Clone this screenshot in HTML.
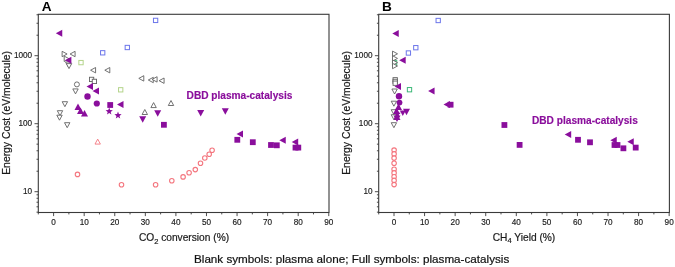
<!DOCTYPE html>
<html><head><meta charset="utf-8"><style>
html,body{margin:0;padding:0;background:#fff;}
svg{display:block;filter:blur(0.3px);}
text{font-family:"Liberation Sans",sans-serif;}
.tk{font-size:8.2px;fill:#1a1a1a;stroke:#1a1a1a;stroke-width:0.15px;}
.al{font-size:10.2px;fill:#1a1a1a;stroke:#1a1a1a;stroke-width:0.2px;}
.lt{font-size:13.6px;font-weight:bold;fill:#000;}
.dbd{font-size:10.15px;font-weight:bold;fill:#8a0e9c;stroke:#8a0e9c;stroke-width:0.15px;}
.cap{font-size:11.68px;fill:#111;stroke:#111;stroke-width:0.2px;}
</style></head><body>
<svg width="675" height="267" viewBox="0 0 675 267">
<rect width="675" height="267" fill="#fff"/>
<rect x="38.3" y="14.3" width="290.70" height="198.20" fill="none" stroke="#3a3a3a" stroke-width="1.1"/>
<line x1="38.31" y1="212.5" x2="38.31" y2="214.4" stroke="#3a3a3a" stroke-width="0.9"/>
<line x1="53.60" y1="212.5" x2="53.60" y2="216.1" stroke="#3a3a3a" stroke-width="0.9"/>
<text x="53.60" y="224.9" text-anchor="middle" class="tk">0</text>
<line x1="68.89" y1="212.5" x2="68.89" y2="214.4" stroke="#3a3a3a" stroke-width="0.9"/>
<line x1="84.18" y1="212.5" x2="84.18" y2="216.1" stroke="#3a3a3a" stroke-width="0.9"/>
<text x="84.18" y="224.9" text-anchor="middle" class="tk">10</text>
<line x1="99.46" y1="212.5" x2="99.46" y2="214.4" stroke="#3a3a3a" stroke-width="0.9"/>
<line x1="114.75" y1="212.5" x2="114.75" y2="216.1" stroke="#3a3a3a" stroke-width="0.9"/>
<text x="114.75" y="224.9" text-anchor="middle" class="tk">20</text>
<line x1="130.04" y1="212.5" x2="130.04" y2="214.4" stroke="#3a3a3a" stroke-width="0.9"/>
<line x1="145.33" y1="212.5" x2="145.33" y2="216.1" stroke="#3a3a3a" stroke-width="0.9"/>
<text x="145.33" y="224.9" text-anchor="middle" class="tk">30</text>
<line x1="160.61" y1="212.5" x2="160.61" y2="214.4" stroke="#3a3a3a" stroke-width="0.9"/>
<line x1="175.90" y1="212.5" x2="175.90" y2="216.1" stroke="#3a3a3a" stroke-width="0.9"/>
<text x="175.90" y="224.9" text-anchor="middle" class="tk">40</text>
<line x1="191.19" y1="212.5" x2="191.19" y2="214.4" stroke="#3a3a3a" stroke-width="0.9"/>
<line x1="206.47" y1="212.5" x2="206.47" y2="216.1" stroke="#3a3a3a" stroke-width="0.9"/>
<text x="206.47" y="224.9" text-anchor="middle" class="tk">50</text>
<line x1="221.76" y1="212.5" x2="221.76" y2="214.4" stroke="#3a3a3a" stroke-width="0.9"/>
<line x1="237.05" y1="212.5" x2="237.05" y2="216.1" stroke="#3a3a3a" stroke-width="0.9"/>
<text x="237.05" y="224.9" text-anchor="middle" class="tk">60</text>
<line x1="252.34" y1="212.5" x2="252.34" y2="214.4" stroke="#3a3a3a" stroke-width="0.9"/>
<line x1="267.62" y1="212.5" x2="267.62" y2="216.1" stroke="#3a3a3a" stroke-width="0.9"/>
<text x="267.62" y="224.9" text-anchor="middle" class="tk">70</text>
<line x1="282.91" y1="212.5" x2="282.91" y2="214.4" stroke="#3a3a3a" stroke-width="0.9"/>
<line x1="298.20" y1="212.5" x2="298.20" y2="216.1" stroke="#3a3a3a" stroke-width="0.9"/>
<text x="298.20" y="224.9" text-anchor="middle" class="tk">80</text>
<line x1="313.49" y1="212.5" x2="313.49" y2="214.4" stroke="#3a3a3a" stroke-width="0.9"/>
<line x1="328.78" y1="212.5" x2="328.78" y2="216.1" stroke="#3a3a3a" stroke-width="0.9"/>
<text x="328.78" y="224.9" text-anchor="middle" class="tk">90</text>
<line x1="36.50" y1="212.17" x2="38.3" y2="212.17" stroke="#3a3a3a" stroke-width="0.9"/>
<line x1="36.50" y1="206.79" x2="38.3" y2="206.79" stroke="#3a3a3a" stroke-width="0.9"/>
<line x1="36.50" y1="202.23" x2="38.3" y2="202.23" stroke="#3a3a3a" stroke-width="0.9"/>
<line x1="36.50" y1="198.29" x2="38.3" y2="198.29" stroke="#3a3a3a" stroke-width="0.9"/>
<line x1="36.50" y1="194.81" x2="38.3" y2="194.81" stroke="#3a3a3a" stroke-width="0.9"/>
<line x1="34.50" y1="191.70" x2="38.3" y2="191.70" stroke="#3a3a3a" stroke-width="0.9"/>
<text x="32.10" y="194.10" text-anchor="end" class="tk">10</text>
<line x1="36.50" y1="171.23" x2="38.3" y2="171.23" stroke="#3a3a3a" stroke-width="0.9"/>
<line x1="36.50" y1="159.26" x2="38.3" y2="159.26" stroke="#3a3a3a" stroke-width="0.9"/>
<line x1="36.50" y1="150.76" x2="38.3" y2="150.76" stroke="#3a3a3a" stroke-width="0.9"/>
<line x1="36.50" y1="144.17" x2="38.3" y2="144.17" stroke="#3a3a3a" stroke-width="0.9"/>
<line x1="36.50" y1="138.79" x2="38.3" y2="138.79" stroke="#3a3a3a" stroke-width="0.9"/>
<line x1="36.50" y1="134.23" x2="38.3" y2="134.23" stroke="#3a3a3a" stroke-width="0.9"/>
<line x1="36.50" y1="130.29" x2="38.3" y2="130.29" stroke="#3a3a3a" stroke-width="0.9"/>
<line x1="36.50" y1="126.81" x2="38.3" y2="126.81" stroke="#3a3a3a" stroke-width="0.9"/>
<line x1="34.50" y1="123.70" x2="38.3" y2="123.70" stroke="#3a3a3a" stroke-width="0.9"/>
<text x="32.10" y="126.10" text-anchor="end" class="tk">100</text>
<line x1="36.50" y1="103.23" x2="38.3" y2="103.23" stroke="#3a3a3a" stroke-width="0.9"/>
<line x1="36.50" y1="91.26" x2="38.3" y2="91.26" stroke="#3a3a3a" stroke-width="0.9"/>
<line x1="36.50" y1="82.76" x2="38.3" y2="82.76" stroke="#3a3a3a" stroke-width="0.9"/>
<line x1="36.50" y1="76.17" x2="38.3" y2="76.17" stroke="#3a3a3a" stroke-width="0.9"/>
<line x1="36.50" y1="70.79" x2="38.3" y2="70.79" stroke="#3a3a3a" stroke-width="0.9"/>
<line x1="36.50" y1="66.23" x2="38.3" y2="66.23" stroke="#3a3a3a" stroke-width="0.9"/>
<line x1="36.50" y1="62.29" x2="38.3" y2="62.29" stroke="#3a3a3a" stroke-width="0.9"/>
<line x1="36.50" y1="58.81" x2="38.3" y2="58.81" stroke="#3a3a3a" stroke-width="0.9"/>
<line x1="34.50" y1="55.70" x2="38.3" y2="55.70" stroke="#3a3a3a" stroke-width="0.9"/>
<text x="32.10" y="58.10" text-anchor="end" class="tk">1000</text>
<line x1="36.50" y1="35.23" x2="38.3" y2="35.23" stroke="#3a3a3a" stroke-width="0.9"/>
<line x1="36.50" y1="23.26" x2="38.3" y2="23.26" stroke="#3a3a3a" stroke-width="0.9"/>
<line x1="36.50" y1="14.76" x2="38.3" y2="14.76" stroke="#3a3a3a" stroke-width="0.9"/>
<text x="41.70" y="10.7" class="lt">A</text>
<text transform="translate(9.50,112.90) rotate(-90)" text-anchor="middle" class="al" style="font-size:10.36px">Energy Cost (eV/molecule)</text>
<text x="184" y="241.3" text-anchor="middle" class="al">CO<tspan font-size="7.5" dy="2.2">2</tspan><tspan dy="-2.2"> conversion (%)</tspan></text>
<rect x="378.7" y="14.3" width="290.70" height="198.20" fill="none" stroke="#3a3a3a" stroke-width="1.1"/>
<line x1="378.71" y1="212.5" x2="378.71" y2="214.4" stroke="#3a3a3a" stroke-width="0.9"/>
<line x1="394.00" y1="212.5" x2="394.00" y2="216.1" stroke="#3a3a3a" stroke-width="0.9"/>
<text x="394.00" y="224.9" text-anchor="middle" class="tk">0</text>
<line x1="409.29" y1="212.5" x2="409.29" y2="214.4" stroke="#3a3a3a" stroke-width="0.9"/>
<line x1="424.57" y1="212.5" x2="424.57" y2="216.1" stroke="#3a3a3a" stroke-width="0.9"/>
<text x="424.57" y="224.9" text-anchor="middle" class="tk">10</text>
<line x1="439.86" y1="212.5" x2="439.86" y2="214.4" stroke="#3a3a3a" stroke-width="0.9"/>
<line x1="455.15" y1="212.5" x2="455.15" y2="216.1" stroke="#3a3a3a" stroke-width="0.9"/>
<text x="455.15" y="224.9" text-anchor="middle" class="tk">20</text>
<line x1="470.44" y1="212.5" x2="470.44" y2="214.4" stroke="#3a3a3a" stroke-width="0.9"/>
<line x1="485.73" y1="212.5" x2="485.73" y2="216.1" stroke="#3a3a3a" stroke-width="0.9"/>
<text x="485.73" y="224.9" text-anchor="middle" class="tk">30</text>
<line x1="501.01" y1="212.5" x2="501.01" y2="214.4" stroke="#3a3a3a" stroke-width="0.9"/>
<line x1="516.30" y1="212.5" x2="516.30" y2="216.1" stroke="#3a3a3a" stroke-width="0.9"/>
<text x="516.30" y="224.9" text-anchor="middle" class="tk">40</text>
<line x1="531.59" y1="212.5" x2="531.59" y2="214.4" stroke="#3a3a3a" stroke-width="0.9"/>
<line x1="546.88" y1="212.5" x2="546.88" y2="216.1" stroke="#3a3a3a" stroke-width="0.9"/>
<text x="546.88" y="224.9" text-anchor="middle" class="tk">50</text>
<line x1="562.16" y1="212.5" x2="562.16" y2="214.4" stroke="#3a3a3a" stroke-width="0.9"/>
<line x1="577.45" y1="212.5" x2="577.45" y2="216.1" stroke="#3a3a3a" stroke-width="0.9"/>
<text x="577.45" y="224.9" text-anchor="middle" class="tk">60</text>
<line x1="592.74" y1="212.5" x2="592.74" y2="214.4" stroke="#3a3a3a" stroke-width="0.9"/>
<line x1="608.02" y1="212.5" x2="608.02" y2="216.1" stroke="#3a3a3a" stroke-width="0.9"/>
<text x="608.02" y="224.9" text-anchor="middle" class="tk">70</text>
<line x1="623.31" y1="212.5" x2="623.31" y2="214.4" stroke="#3a3a3a" stroke-width="0.9"/>
<line x1="638.60" y1="212.5" x2="638.60" y2="216.1" stroke="#3a3a3a" stroke-width="0.9"/>
<text x="638.60" y="224.9" text-anchor="middle" class="tk">80</text>
<line x1="653.89" y1="212.5" x2="653.89" y2="214.4" stroke="#3a3a3a" stroke-width="0.9"/>
<line x1="669.17" y1="212.5" x2="669.17" y2="216.1" stroke="#3a3a3a" stroke-width="0.9"/>
<text x="669.17" y="224.9" text-anchor="middle" class="tk">90</text>
<line x1="376.90" y1="212.17" x2="378.7" y2="212.17" stroke="#3a3a3a" stroke-width="0.9"/>
<line x1="376.90" y1="206.79" x2="378.7" y2="206.79" stroke="#3a3a3a" stroke-width="0.9"/>
<line x1="376.90" y1="202.23" x2="378.7" y2="202.23" stroke="#3a3a3a" stroke-width="0.9"/>
<line x1="376.90" y1="198.29" x2="378.7" y2="198.29" stroke="#3a3a3a" stroke-width="0.9"/>
<line x1="376.90" y1="194.81" x2="378.7" y2="194.81" stroke="#3a3a3a" stroke-width="0.9"/>
<line x1="374.90" y1="191.70" x2="378.7" y2="191.70" stroke="#3a3a3a" stroke-width="0.9"/>
<text x="372.50" y="194.10" text-anchor="end" class="tk">10</text>
<line x1="376.90" y1="171.23" x2="378.7" y2="171.23" stroke="#3a3a3a" stroke-width="0.9"/>
<line x1="376.90" y1="159.26" x2="378.7" y2="159.26" stroke="#3a3a3a" stroke-width="0.9"/>
<line x1="376.90" y1="150.76" x2="378.7" y2="150.76" stroke="#3a3a3a" stroke-width="0.9"/>
<line x1="376.90" y1="144.17" x2="378.7" y2="144.17" stroke="#3a3a3a" stroke-width="0.9"/>
<line x1="376.90" y1="138.79" x2="378.7" y2="138.79" stroke="#3a3a3a" stroke-width="0.9"/>
<line x1="376.90" y1="134.23" x2="378.7" y2="134.23" stroke="#3a3a3a" stroke-width="0.9"/>
<line x1="376.90" y1="130.29" x2="378.7" y2="130.29" stroke="#3a3a3a" stroke-width="0.9"/>
<line x1="376.90" y1="126.81" x2="378.7" y2="126.81" stroke="#3a3a3a" stroke-width="0.9"/>
<line x1="374.90" y1="123.70" x2="378.7" y2="123.70" stroke="#3a3a3a" stroke-width="0.9"/>
<text x="372.50" y="126.10" text-anchor="end" class="tk">100</text>
<line x1="376.90" y1="103.23" x2="378.7" y2="103.23" stroke="#3a3a3a" stroke-width="0.9"/>
<line x1="376.90" y1="91.26" x2="378.7" y2="91.26" stroke="#3a3a3a" stroke-width="0.9"/>
<line x1="376.90" y1="82.76" x2="378.7" y2="82.76" stroke="#3a3a3a" stroke-width="0.9"/>
<line x1="376.90" y1="76.17" x2="378.7" y2="76.17" stroke="#3a3a3a" stroke-width="0.9"/>
<line x1="376.90" y1="70.79" x2="378.7" y2="70.79" stroke="#3a3a3a" stroke-width="0.9"/>
<line x1="376.90" y1="66.23" x2="378.7" y2="66.23" stroke="#3a3a3a" stroke-width="0.9"/>
<line x1="376.90" y1="62.29" x2="378.7" y2="62.29" stroke="#3a3a3a" stroke-width="0.9"/>
<line x1="376.90" y1="58.81" x2="378.7" y2="58.81" stroke="#3a3a3a" stroke-width="0.9"/>
<line x1="374.90" y1="55.70" x2="378.7" y2="55.70" stroke="#3a3a3a" stroke-width="0.9"/>
<text x="372.50" y="58.10" text-anchor="end" class="tk">1000</text>
<line x1="376.90" y1="35.23" x2="378.7" y2="35.23" stroke="#3a3a3a" stroke-width="0.9"/>
<line x1="376.90" y1="23.26" x2="378.7" y2="23.26" stroke="#3a3a3a" stroke-width="0.9"/>
<line x1="376.90" y1="14.76" x2="378.7" y2="14.76" stroke="#3a3a3a" stroke-width="0.9"/>
<text x="382.10" y="10.7" class="lt">B</text>
<text transform="translate(349.90,112.90) rotate(-90)" text-anchor="middle" class="al" style="font-size:10.36px">Energy Cost (eV/molecule)</text>
<text x="524" y="241.1" text-anchor="middle" class="al">CH<tspan font-size="7.5" dy="2.2">4</tspan><tspan dy="-2.2"> Yield (%)</tspan></text>
<g>
<polygon points="67.10,54.00 62.11,51.30 62.11,56.70" fill="#fff" stroke="#626262" stroke-width="0.9"/>
<polygon points="70.10,54.00 75.09,51.30 75.09,56.70" fill="#fff" stroke="#626262" stroke-width="0.9"/>
<polygon points="69.20,58.80 64.20,56.10 64.20,61.50" fill="#fff" stroke="#626262" stroke-width="0.9"/>
<polygon points="68.30,67.00 65.60,62.00 71.00,62.00" fill="#fff" stroke="#626262" stroke-width="0.9"/>
<polygon points="69.00,68.60 66.30,63.61 71.70,63.61" fill="#fff" stroke="#626262" stroke-width="0.9"/>
<polygon points="90.60,70.20 95.59,67.50 95.59,72.90" fill="#fff" stroke="#626262" stroke-width="0.9"/>
<polygon points="104.80,70.20 109.80,67.50 109.80,72.90" fill="#fff" stroke="#626262" stroke-width="0.9"/>
<rect x="89.45" y="77.25" width="4.30" height="4.30" fill="#fff" stroke="#626262" stroke-width="0.9"/>
<rect x="92.25" y="79.25" width="4.30" height="4.30" fill="#fff" stroke="#626262" stroke-width="0.9"/>
<circle cx="76.90" cy="84.40" r="2.50" fill="#fff" stroke="#626262" stroke-width="0.9"/>
<polygon points="75.50,93.90 72.80,88.91 78.20,88.91" fill="#fff" stroke="#626262" stroke-width="0.9"/>
<polygon points="138.80,78.40 143.79,75.70 143.79,81.10" fill="#fff" stroke="#626262" stroke-width="0.9"/>
<polygon points="148.30,80.00 153.29,77.30 153.29,82.70" fill="#fff" stroke="#626262" stroke-width="0.9"/>
<polygon points="152.10,79.40 157.09,76.70 157.09,82.10" fill="#fff" stroke="#626262" stroke-width="0.9"/>
<polygon points="159.10,80.70 164.09,78.00 164.09,83.40" fill="#fff" stroke="#626262" stroke-width="0.9"/>
<polygon points="64.90,106.70 62.20,101.70 67.60,101.70" fill="#fff" stroke="#626262" stroke-width="0.9"/>
<polygon points="60.00,115.70 57.30,110.70 62.70,110.70" fill="#fff" stroke="#626262" stroke-width="0.9"/>
<polygon points="59.50,120.20 56.80,115.20 62.20,115.20" fill="#fff" stroke="#626262" stroke-width="0.9"/>
<polygon points="67.20,127.70 64.50,122.70 69.90,122.70" fill="#fff" stroke="#626262" stroke-width="0.9"/>
<polygon points="153.60,102.60 150.90,107.59 156.30,107.59" fill="#fff" stroke="#626262" stroke-width="0.9"/>
<polygon points="171.00,100.50 168.30,105.50 173.70,105.50" fill="#fff" stroke="#626262" stroke-width="0.9"/>
<polygon points="144.80,109.50 142.10,114.50 147.50,114.50" fill="#fff" stroke="#626262" stroke-width="0.9"/>
<rect x="153.45" y="18.25" width="4.30" height="4.30" fill="#fff" stroke="#6c76ea" stroke-width="1.0"/>
<rect x="125.15" y="45.35" width="4.30" height="4.30" fill="#fff" stroke="#6c76ea" stroke-width="1.0"/>
<rect x="100.55" y="50.65" width="4.30" height="4.30" fill="#fff" stroke="#6c76ea" stroke-width="1.0"/>
<rect x="78.85" y="60.45" width="4.30" height="4.30" fill="#fff" stroke="#b4d48a" stroke-width="1.0"/>
<rect x="118.55" y="87.65" width="4.30" height="4.30" fill="#fff" stroke="#b4d48a" stroke-width="1.0"/>
<polygon points="97.70,139.10 95.00,144.09 100.40,144.09" fill="#fff" stroke="#f4767f" stroke-width="0.9"/>
<circle cx="77.50" cy="174.40" r="2.25" fill="#fff" stroke="#f4767f" stroke-width="1.1"/>
<circle cx="121.50" cy="184.80" r="2.25" fill="#fff" stroke="#f4767f" stroke-width="1.1"/>
<circle cx="155.60" cy="184.80" r="2.25" fill="#fff" stroke="#f4767f" stroke-width="1.1"/>
<circle cx="171.80" cy="180.70" r="2.25" fill="#fff" stroke="#f4767f" stroke-width="1.1"/>
<circle cx="183.10" cy="176.90" r="2.25" fill="#fff" stroke="#f4767f" stroke-width="1.1"/>
<circle cx="189.10" cy="172.80" r="2.25" fill="#fff" stroke="#f4767f" stroke-width="1.1"/>
<circle cx="195.30" cy="169.60" r="2.25" fill="#fff" stroke="#f4767f" stroke-width="1.1"/>
<circle cx="200.50" cy="163.20" r="2.25" fill="#fff" stroke="#f4767f" stroke-width="1.1"/>
<circle cx="204.80" cy="158.00" r="2.25" fill="#fff" stroke="#f4767f" stroke-width="1.1"/>
<circle cx="209.20" cy="154.20" r="2.25" fill="#fff" stroke="#f4767f" stroke-width="1.1"/>
<circle cx="212.10" cy="150.30" r="2.25" fill="#fff" stroke="#f4767f" stroke-width="1.1"/>
<polygon points="55.80,33.20 62.27,29.70 62.27,36.70" fill="#8a0e9c"/>
<polygon points="64.90,60.30 71.38,56.80 71.38,63.80" fill="#8a0e9c"/>
<polygon points="86.50,86.60 92.97,83.10 92.97,90.10" fill="#8a0e9c"/>
<polygon points="92.50,91.00 98.97,87.50 98.97,94.50" fill="#8a0e9c"/>
<circle cx="87.50" cy="96.50" r="3.20" fill="#8a0e9c"/>
<circle cx="96.80" cy="103.50" r="3.10" fill="#8a0e9c"/>
<polygon points="78.00,103.50 74.50,109.97 81.50,109.97" fill="#8a0e9c"/>
<polygon points="80.50,107.50 77.00,113.97 84.00,113.97" fill="#8a0e9c"/>
<polygon points="84.50,110.00 81.00,116.47 88.00,116.47" fill="#8a0e9c"/>
<rect x="107.30" y="102.10" width="5.80" height="5.80" fill="#8a0e9c"/>
<polygon points="109.20,107.60 110.14,110.11 112.81,110.23 110.72,111.89 111.43,114.47 109.20,113.00 106.97,114.47 107.68,111.89 105.59,110.23 108.26,110.11" fill="#8a0e9c"/>
<polygon points="118.00,111.60 118.94,114.11 121.61,114.23 119.52,115.89 120.23,118.47 118.00,117.00 115.77,118.47 116.48,115.89 114.39,114.23 117.06,114.11" fill="#8a0e9c"/>
<polygon points="117.00,104.50 123.47,101.00 123.47,108.00" fill="#8a0e9c"/>
<polygon points="157.70,116.80 154.20,110.33 161.20,110.33" fill="#8a0e9c"/>
<polygon points="142.70,122.70 139.20,116.23 146.20,116.23" fill="#8a0e9c"/>
<rect x="161.00" y="121.90" width="5.80" height="5.80" fill="#8a0e9c"/>
<polygon points="200.70,116.50 197.20,110.03 204.20,110.03" fill="#8a0e9c"/>
<polygon points="225.30,114.80 221.80,108.33 228.80,108.33" fill="#8a0e9c"/>
<polygon points="236.50,134.00 242.97,130.50 242.97,137.50" fill="#8a0e9c"/>
<rect x="234.40" y="136.90" width="5.80" height="5.80" fill="#8a0e9c"/>
<rect x="249.90" y="139.30" width="5.80" height="5.80" fill="#8a0e9c"/>
<rect x="268.10" y="142.10" width="5.80" height="5.80" fill="#8a0e9c"/>
<rect x="273.90" y="142.40" width="5.80" height="5.80" fill="#8a0e9c"/>
<polygon points="279.30,140.20 285.78,136.70 285.78,143.70" fill="#8a0e9c"/>
<polygon points="291.70,142.00 298.18,138.50 298.18,145.50" fill="#8a0e9c"/>
<rect x="292.60" y="144.70" width="5.80" height="5.80" fill="#8a0e9c"/>
<rect x="295.40" y="144.70" width="5.80" height="5.80" fill="#8a0e9c"/>
</g>
<g>
<rect x="436.05" y="18.35" width="4.30" height="4.30" fill="#fff" stroke="#6c76ea" stroke-width="1.0"/>
<rect x="413.65" y="45.55" width="4.30" height="4.30" fill="#fff" stroke="#6c76ea" stroke-width="1.0"/>
<rect x="406.25" y="50.85" width="4.30" height="4.30" fill="#fff" stroke="#6c76ea" stroke-width="1.0"/>
<rect x="392.45" y="60.65" width="4.30" height="4.30" fill="#fff" stroke="#3cb878" stroke-width="1.0"/>
<polygon points="397.50,53.80 392.50,51.10 392.50,56.50" fill="#fff" stroke="#626262" stroke-width="0.9"/>
<polygon points="397.50,58.40 392.50,55.70 392.50,61.10" fill="#fff" stroke="#626262" stroke-width="0.9"/>
<polygon points="397.50,62.60 392.50,59.90 392.50,65.30" fill="#fff" stroke="#626262" stroke-width="0.9"/>
<polygon points="397.50,66.00 392.50,63.30 392.50,68.70" fill="#fff" stroke="#626262" stroke-width="0.9"/>
<rect x="393.05" y="77.65" width="4.30" height="4.30" fill="#fff" stroke="#626262" stroke-width="0.9"/>
<rect x="393.05" y="79.25" width="4.30" height="4.30" fill="#fff" stroke="#626262" stroke-width="0.9"/>
<rect x="393.05" y="81.05" width="4.30" height="4.30" fill="#fff" stroke="#626262" stroke-width="0.9"/>
<polygon points="394.60,94.00 391.90,89.00 397.30,89.00" fill="#fff" stroke="#626262" stroke-width="0.9"/>
<rect x="407.35" y="87.55" width="4.30" height="4.30" fill="#fff" stroke="#3cb878" stroke-width="1.0"/>
<polygon points="393.90,106.20 391.20,101.20 396.60,101.20" fill="#fff" stroke="#626262" stroke-width="0.9"/>
<polygon points="393.90,114.70 391.20,109.70 396.60,109.70" fill="#fff" stroke="#626262" stroke-width="0.9"/>
<polygon points="393.90,119.70 391.20,114.70 396.60,114.70" fill="#fff" stroke="#626262" stroke-width="0.9"/>
<polygon points="393.90,127.70 391.20,122.70 396.60,122.70" fill="#fff" stroke="#626262" stroke-width="0.9"/>
<circle cx="394.10" cy="150.10" r="2.25" fill="#fff" stroke="#f4767f" stroke-width="1.1"/>
<circle cx="394.10" cy="153.90" r="2.25" fill="#fff" stroke="#f4767f" stroke-width="1.1"/>
<circle cx="394.10" cy="158.10" r="2.25" fill="#fff" stroke="#f4767f" stroke-width="1.1"/>
<circle cx="394.10" cy="163.20" r="2.25" fill="#fff" stroke="#f4767f" stroke-width="1.1"/>
<circle cx="394.10" cy="169.20" r="2.25" fill="#fff" stroke="#f4767f" stroke-width="1.1"/>
<circle cx="394.10" cy="172.90" r="2.25" fill="#fff" stroke="#f4767f" stroke-width="1.1"/>
<circle cx="394.10" cy="176.70" r="2.25" fill="#fff" stroke="#f4767f" stroke-width="1.1"/>
<circle cx="394.10" cy="180.40" r="2.25" fill="#fff" stroke="#f4767f" stroke-width="1.1"/>
<circle cx="394.10" cy="184.60" r="2.25" fill="#fff" stroke="#f4767f" stroke-width="1.1"/>
<polygon points="392.30,33.50 398.78,30.00 398.78,37.00" fill="#8a0e9c"/>
<polygon points="399.20,60.30 405.68,56.80 405.68,63.80" fill="#8a0e9c"/>
<polygon points="394.50,86.50 400.98,83.00 400.98,90.00" fill="#8a0e9c"/>
<circle cx="399.00" cy="96.20" r="3.20" fill="#8a0e9c"/>
<circle cx="399.50" cy="102.60" r="2.90" fill="#8a0e9c"/>
<polygon points="398.50,103.50 395.00,109.97 402.00,109.97" fill="#8a0e9c"/>
<polygon points="396.50,107.50 393.00,113.97 400.00,113.97" fill="#8a0e9c"/>
<polygon points="397.30,110.20 398.24,112.71 400.91,112.83 398.82,114.49 399.53,117.07 397.30,115.60 395.07,117.07 395.78,114.49 393.69,112.83 396.36,112.71" fill="#8a0e9c"/>
<polygon points="397.00,113.50 393.50,119.97 400.50,119.97" fill="#8a0e9c"/>
<polygon points="397.00,122.00 393.50,115.53 400.50,115.53" fill="#8a0e9c"/>
<polygon points="406.50,115.30 403.00,108.83 410.00,108.83" fill="#8a0e9c"/>
<polygon points="402.80,116.00 399.80,110.45 405.80,110.45" fill="#8a0e9c"/>
<polygon points="428.10,91.00 434.58,87.50 434.58,94.50" fill="#8a0e9c"/>
<polygon points="443.50,104.50 449.98,101.00 449.98,108.00" fill="#8a0e9c"/>
<rect x="447.70" y="101.80" width="5.80" height="5.80" fill="#8a0e9c"/>
<rect x="501.50" y="122.10" width="5.80" height="5.80" fill="#8a0e9c"/>
<rect x="516.70" y="142.00" width="5.80" height="5.80" fill="#8a0e9c"/>
<polygon points="564.70,134.60 571.18,131.10 571.18,138.10" fill="#8a0e9c"/>
<rect x="575.10" y="136.90" width="5.80" height="5.80" fill="#8a0e9c"/>
<rect x="587.10" y="139.40" width="5.80" height="5.80" fill="#8a0e9c"/>
<polygon points="610.30,140.20 616.77,136.70 616.77,143.70" fill="#8a0e9c"/>
<rect x="611.60" y="142.10" width="5.80" height="5.80" fill="#8a0e9c"/>
<rect x="614.60" y="142.10" width="5.80" height="5.80" fill="#8a0e9c"/>
<rect x="620.50" y="145.40" width="5.80" height="5.80" fill="#8a0e9c"/>
<polygon points="627.30,141.70 633.77,138.20 633.77,145.20" fill="#8a0e9c"/>
<rect x="632.80" y="144.70" width="5.80" height="5.80" fill="#8a0e9c"/>
</g>
<text x="186.6" y="99.2" class="dbd">DBD plasma-catalysis</text>
<text x="532.0" y="123.5" class="dbd">DBD plasma-catalysis</text>
<text x="194.0" y="263.1" class="cap">Blank symbols: plasma alone; Full symbols: plasma-catalysis</text>
</svg>
</body></html>
